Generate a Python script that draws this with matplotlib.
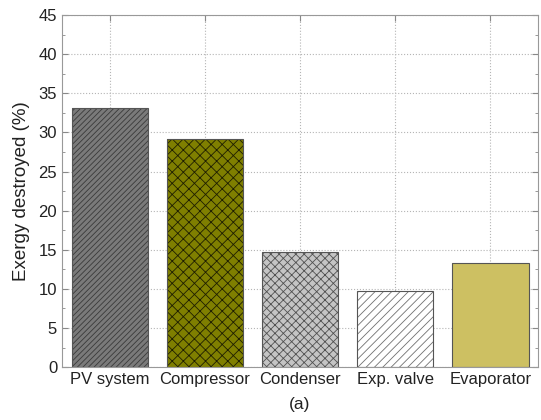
import numpy as np
import matplotlib.pyplot as plt
from matplotlib.ticker import MultipleLocator

plt.rcParams['font.family'] = ['Liberation Sans', 'DejaVu Sans']

components = ["PV system", "Compressor", "Condenser", "Exp. valve", "Evaporator"]
exergy_destroyed = [33.1, 29.1, 14.7, 9.7, 13.3]

face_colors = ["#7a7a7a", "#7f7f00", "#c4c4c4", "#ffffff", "#cdc062"]
hatch_colors = ["#3a3a3a", "#1e1e00", "#505050", "#707070", "#cdc062"]
hatches = ["//////", "xxx", "xxxx", "////", ""]

fig = plt.figure(figsize=(5.41, 4.2), dpi=100)
ax = fig.add_axes([0.1146, 0.126, 0.88, 0.838])

x = np.arange(len(components))
plt.rcParams['hatch.linewidth'] = 0.6
for i in range(len(components)):
    ax.bar(x[i], exergy_destroyed[i], width=0.8, color=face_colors[i],
           hatch=hatches[i], edgecolor=hatch_colors[i], linewidth=0, zorder=2)
    ax.bar(x[i], exergy_destroyed[i], width=0.8, fill=False,
           edgecolor="#555555", linewidth=0.8, zorder=3)

ax.set_xlim(-0.5, 4.5)
ax.set_ylim(0, 45)
ax.yaxis.set_major_locator(MultipleLocator(5))
ax.yaxis.set_minor_locator(MultipleLocator(2.5))
ax.set_xticks(x)
ax.set_xticklabels(components, fontsize=12, color="#222222")
ax.tick_params(axis='y', labelsize=12, labelcolor="#222222")
ax.tick_params(which='both', direction='in', top=True, right=True, color="#888888")
ax.tick_params(which='major', length=4)
ax.tick_params(which='minor', length=2.5)

ax.grid(True, linestyle=':', color="#b5b5b5", linewidth=0.8, zorder=0)
ax.set_axisbelow(True)
for s in ax.spines.values():
    s.set_color("#999999")

ax.set_ylabel("Exergy destroyed (%)", fontsize=13.5, color="#222222", labelpad=6)
ax.set_xlabel("(a)", fontsize=12.5, color="#222222", labelpad=7)

fig.savefig("out.png", dpi=100)
